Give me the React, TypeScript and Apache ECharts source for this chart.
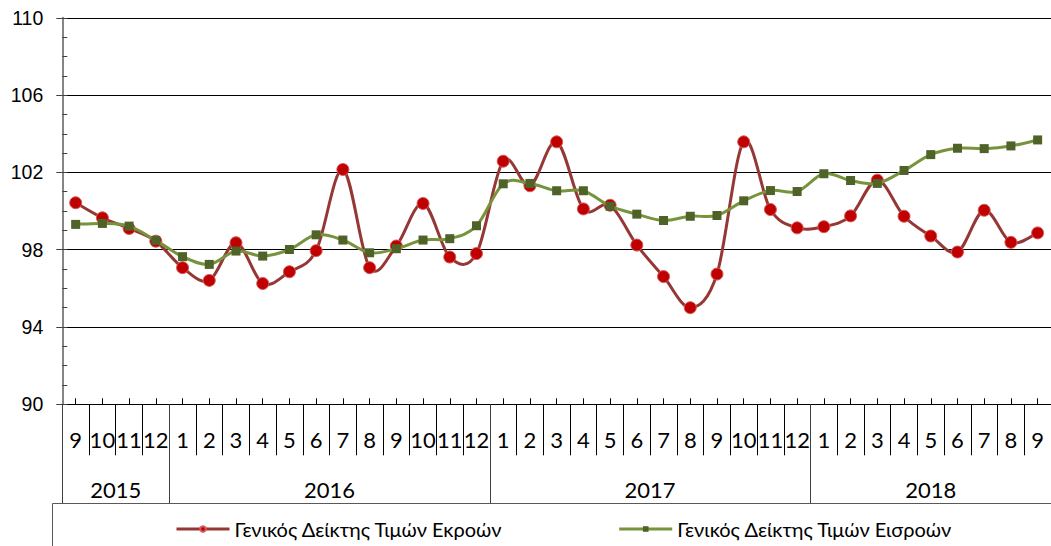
import React, { useEffect, useRef } from 'react';
import * as echarts from 'echarts';

const monthLabels = ['9','10','11','12','1','2','3','4','5','6','7','8','9','10','11','12','1','2','3','4','5','6','7','8','9','10','11','12','1','2','3','4','5','6','7','8','9'];
const yearLabels = ['2015', '2016', '2017', '2018'];
const yearSpans = [4, 12, 12, 9];

const outputName = 'Γενικός Δείκτης Τιμών Εκροών';
const inputName = 'Γενικός Δείκτης Τιμών Εισροών';

const outputIndex = [100.43, 99.65, 99.1, 98.44, 97.07, 96.41, 98.36, 96.25, 96.86, 97.95, 102.15, 97.07, 98.19, 100.39, 97.62, 97.8, 102.58, 101.31, 103.58, 100.11, 100.3, 98.24, 96.61, 95.0, 96.74, 103.58, 100.08, 99.13, 99.19, 99.75, 101.6, 99.73, 98.71, 97.88, 100.04, 98.38, 98.87];
const inputIndex = [99.31, 99.36, 99.22, 98.48, 97.64, 97.24, 97.93, 97.67, 98.01, 98.77, 98.5, 97.84, 98.05, 98.5, 98.57, 99.24, 101.41, 101.43, 101.05, 101.05, 100.25, 99.84, 99.51, 99.73, 99.77, 100.53, 101.06, 101.01, 101.93, 101.58, 101.43, 102.1, 102.92, 103.25, 103.23, 103.37, 103.68];

const yMin = 90;
const yMax = 110;
const yStep = 4;

const outputLineColor = '#953735';
const inputLineColor = '#77933C';

// Smoothed (Catmull-Rom style) line drawn through the axis scales, one bezier segment per point
function smoothLine(values: number[], color: string, z: number) {
  const n = values.length;
  return {
    type: 'custom',
    name: '_line_' + color,
    xAxisIndex: 0,
    yAxisIndex: 0,
    z,
    silent: true,
    clip: false,
    data: values.map((v, i) => [i, v]),
    encode: { x: 0, y: 1 },
    renderItem: (params: any, api: any) => {
      const i = params.dataIndex;
      if (i >= n - 1) return null;
      const pt = (j: number) => {
        const k = Math.max(0, Math.min(n - 1, j));
        return api.coord([k, values[k]]);
      };
      const p0 = pt(i - 1);
      const p1 = pt(i);
      const p2 = pt(i + 1);
      const p3 = pt(i + 2);
      const t = 1 / 6;
      return {
        type: 'bezierCurve',
        shape: {
          x1: p1[0],
          y1: p1[1],
          x2: p2[0],
          y2: p2[1],
          cpx1: p1[0] + (p2[0] - p0[0]) * t,
          cpy1: p1[1] + (p2[1] - p0[1]) * t,
          cpx2: p2[0] - (p3[0] - p1[0]) * t,
          cpy2: p2[1] - (p3[1] - p1[1]) * t,
        },
        style: { stroke: color, lineWidth: 3, fill: 'none', lineCap: 'round' },
      };
    },
  };
}

export default function App() {
  const ref = useRef<HTMLDivElement>(null);

  useEffect(() => {
    if (!ref.current) return;
    const chart = echarts.init(ref.current, null, { renderer: 'svg' });

    const W = 1051;
    const gridLeft = 62.3;
    const gridRight = -5.5;
    const cw = (W - gridLeft - gridRight) / monthLabels.length;

    const categories: string[] = [];
    const yearStarts: number[] = [];
    const yearAnchor: Record<number, { text: string; shift: boolean }> = {};
    let idx = 0;
    yearLabels.forEach((y, k) => {
      yearStarts.push(idx);
      const span = yearSpans[k];
      if (span % 2 === 0) {
        yearAnchor[idx + span / 2] = { text: y, shift: true };
      } else {
        yearAnchor[idx + (span - 1) / 2] = { text: y, shift: false };
      }
      for (let m = 0; m < span; m++) {
        categories.push(y + '-' + monthLabels[idx]);
        idx++;
      }
    });

    const font = 'Lato';

    chart.setOption({
      animation: false,
      backgroundColor: '#ffffff',
      grid: { left: gridLeft, right: gridRight, top: 17.8, bottom: 141.7, containLabel: false },
      legend: {
        left: 175,
        top: 519,
        padding: 0,
        itemWidth: 53,
        itemHeight: 7,
        itemGap: 115,
        selectedMode: false,
        textStyle: { fontFamily: font, fontSize: 20, color: '#000' },
        data: [
          { name: outputName, lineStyle: { color: outputLineColor, width: 3, opacity: 1 } },
          { name: inputName, lineStyle: { color: inputLineColor, width: 3, opacity: 1 } },
        ],
      },
      xAxis: [
        {
          type: 'category',
          data: categories,
          position: 'bottom',
          boundaryGap: true,
          axisLine: { show: true, lineStyle: { color: '#000', width: 1 } },
          axisTick: { show: true, alignWithLabel: true, inside: true, length: 6, interval: 0, lineStyle: { color: '#000', width: 1 } },
          axisLabel: {
            interval: 0,
            margin: 24,
            hideOverlap: false,
            fontFamily: font,
            fontSize: 22,
            color: '#000',
            formatter: (_v: string, i: number) => monthLabels[i],
          },
          splitLine: { show: false },
        },
        {
          type: 'category',
          data: categories,
          position: 'bottom',
          boundaryGap: true,
          axisLine: { show: false },
          axisTick: { show: true, interval: 0, length: 51, lineStyle: { color: '#000', width: 1 } },
          axisLabel: { show: false },
          splitLine: { show: false },
        },
        {
          type: 'category',
          data: categories,
          position: 'bottom',
          boundaryGap: true,
          axisLine: { show: false },
          axisTick: {
            show: true,
            interval: (i: number) => yearStarts.indexOf(i) >= 0,
            length: 99,
            lineStyle: { color: '#404040', width: 1 },
          },
          axisLabel: {
            show: true,
            interval: (i: number) => yearAnchor[i] !== undefined,
            margin: 74,
            hideOverlap: false,
            fontFamily: font,
            fontSize: 22,
            color: '#000',
            formatter: (_v: string, i: number) => {
              const a = yearAnchor[i];
              if (!a) return '';
              return a.shift ? '{s|' + a.text + '}' : '{c|' + a.text + '}';
            },
            rich: {
              s: { fontFamily: font, fontSize: 22, color: '#000', padding: [0, cw, 0, 0] },
              c: { fontFamily: font, fontSize: 22, color: '#000' },
            },
          },
          splitLine: { show: false },
        },
      ],
      yAxis: [
        {
          type: 'value',
          position: 'left',
          min: yMin,
          max: yMax,
          interval: yStep,
          axisLine: { show: true, lineStyle: { color: '#868686', width: 2 } },
          axisTick: { show: true, length: 6, lineStyle: { color: '#404040', width: 1 } },
          axisLabel: { fontFamily: 'Liberation Sans', fontSize: 19.5, color: '#000', margin: 19 },
          splitLine: { show: true, lineStyle: { color: '#000', width: 1 } },
        },
        {
          type: 'value',
          position: 'left',
          offset: 0,
          min: yMin,
          max: yMax,
          interval: 1,
          axisLine: { show: false },
          axisTick: { show: true, inside: true, length: 5, lineStyle: { color: '#404040', width: 1 } },
          axisLabel: { show: false },
          splitLine: { show: false },
        },
      ],
      graphic: [
        {
          type: 'rect',
          silent: true,
          z: -1,
          shape: { x: 52.5, y: 503.5, width: 1100, height: 100 },
          style: { fill: 'none', stroke: '#595959', lineWidth: 1 },
        },
      ],
      series: [
        smoothLine(outputIndex, outputLineColor, 2),
        {
          name: outputName,
          type: 'line',
          data: outputIndex,
          z: 3,
          symbol: 'circle',
          symbolSize: 12,
          lineStyle: { color: outputLineColor, width: 3, opacity: 0 },
          itemStyle: { color: '#C00000', borderColor: '#D45A5A', borderWidth: 1 },
          emphasis: { disabled: true },
        },
        smoothLine(inputIndex, inputLineColor, 4),
        {
          name: inputName,
          type: 'line',
          data: inputIndex,
          z: 5,
          symbol: 'rect',
          symbolSize: 9,
          lineStyle: { color: inputLineColor, width: 3, opacity: 0 },
          itemStyle: { color: '#4F6228' },
          emphasis: { disabled: true },
        },
      ],
    });

    return () => chart.dispose();
  }, []);

  return (
    <div
      ref={ref}
      style={{ position: 'fixed', left: 0, top: 0, width: 1051, height: 546, background: '#fff' }}
    />
  );
}
